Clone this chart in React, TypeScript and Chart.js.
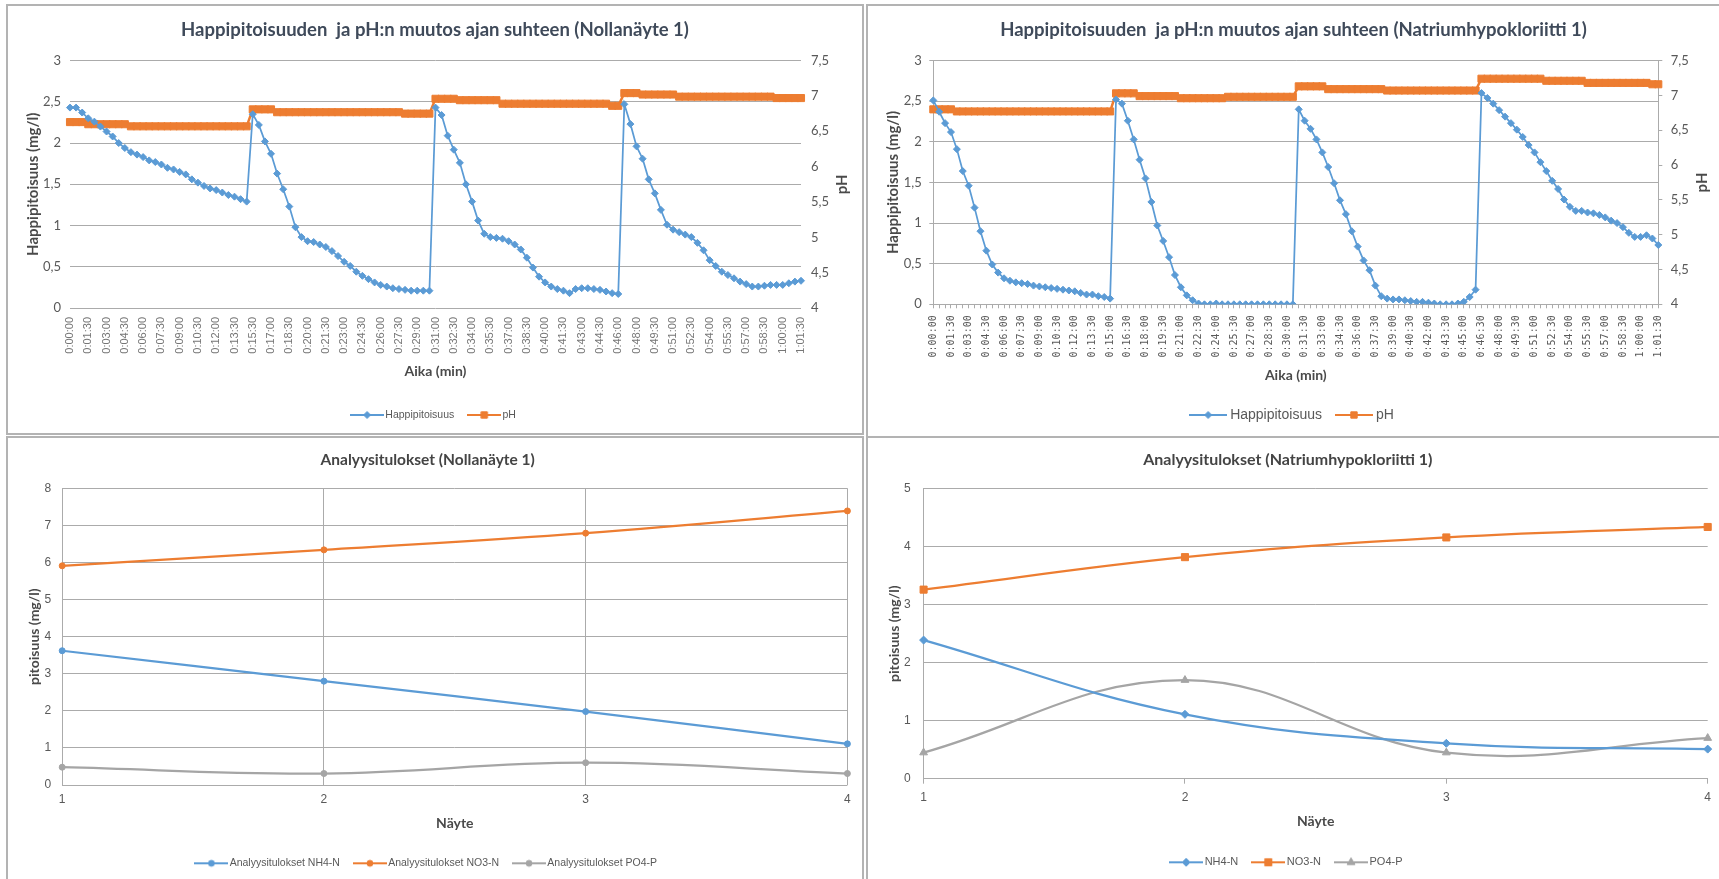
import React, { useEffect, useRef } from 'react';
import { Chart, registerables } from 'chart.js';
import { drawPoint } from 'chart.js/helpers';

Chart.register(...registerables);

// ---------- colours & fonts ----------
const BLUE = '#5b9bd5';
const ORANGE = '#ed7d31';
const GRAY = '#a5a5a5';
const GRID = '#ababab';
const TXT = '#595959';
const AXT = '#4a4a4a';
const TITLE_TOP = '#3f4a5a';
const TITLE_BOT = '#444444';
const FONT = 'Lato, "Open Sans", sans-serif';
const SANS = '"Liberation Sans", Arial, sans-serif';

// ---------- data: top-left (Nollanäyte 1) ----------
const TL_TITLE = 'Happipitoisuuden  ja pH:n muutos ajan suhteen (Nollanäyte 1)';
const TL_TIMES = [
  '0:00:00','0:00:30','0:01:00','0:01:30','0:02:00','0:02:30','0:03:00','0:03:30','0:04:00','0:04:30',
  '0:05:00','0:05:30','0:06:00','0:06:30','0:07:00','0:07:30','0:08:00','0:08:30','0:09:00','0:09:30',
  '0:10:00','0:10:30','0:11:00','0:11:30','0:12:00','0:12:30','0:13:00','0:13:30','0:14:00','0:14:30',
  '0:15:30','0:16:00','0:16:30','0:17:00','0:17:30','0:18:00','0:18:30','0:19:00','0:19:30','0:20:00',
  '0:20:30','0:21:00','0:21:30','0:22:00','0:22:30','0:23:00','0:23:30','0:24:00','0:24:30','0:25:00',
  '0:25:30','0:26:00','0:26:30','0:27:00','0:27:30','0:28:00','0:28:30','0:29:00','0:29:30','0:30:00',
  '0:31:00','0:31:30','0:32:00','0:32:30','0:33:00','0:33:30','0:34:00','0:34:30','0:35:00','0:35:30',
  '0:36:00','0:36:30','0:37:00','0:37:30','0:38:00','0:38:30','0:39:00','0:39:30','0:40:00','0:40:30',
  '0:41:00','0:41:30','0:42:00','0:42:30','0:43:00','0:43:30','0:44:00','0:44:30','0:45:00','0:45:30','0:46:00',
  '0:47:00','0:47:30','0:48:00','0:48:30','0:49:00','0:49:30','0:50:00','0:50:30','0:51:00','0:51:30',
  '0:52:00','0:52:30','0:53:00','0:53:30','0:54:00','0:54:30','0:55:00','0:55:30','0:56:00','0:56:30',
  '0:57:00','0:57:30','0:58:00','0:58:30','0:59:00','0:59:30','1:00:00','1:00:30','1:01:00','1:01:30',
];
const TL_O2 = [
  2.43,2.43,2.37,2.30,2.26,2.20,2.14,2.08,2.00,1.94,
  1.89,1.86,1.83,1.79,1.77,1.74,1.70,1.68,1.65,1.62,
  1.56,1.52,1.48,1.45,1.43,1.40,1.37,1.35,1.32,1.29,
  2.35,2.22,2.02,1.87,1.63,1.44,1.23,0.98,0.86,0.81,
  0.80,0.77,0.74,0.69,0.63,0.56,0.51,0.44,0.39,0.35,
  0.31,0.28,0.26,0.24,0.23,0.22,0.21,0.21,0.21,0.21,
  2.43,2.34,2.09,1.92,1.76,1.50,1.29,1.06,0.90,0.86,
  0.85,0.84,0.81,0.77,0.71,0.61,0.49,0.38,0.31,0.26,
  0.23,0.21,0.18,0.23,0.24,0.24,0.23,0.22,0.20,0.18,0.17,
  2.47,2.23,1.96,1.81,1.56,1.39,1.19,1.01,0.95,0.92,
  0.89,0.86,0.79,0.70,0.58,0.51,0.44,0.40,0.36,0.32,
  0.29,0.26,0.26,0.27,0.28,0.28,0.28,0.30,0.32,0.33,
];
const TL_PH = [
  6.63,6.63,6.63,6.60,6.60,6.60,6.60,6.60,6.60,6.60,
  6.57,6.57,6.57,6.57,6.57,6.57,6.57,6.57,6.57,6.57,
  6.57,6.57,6.57,6.57,6.57,6.57,6.57,6.57,6.57,6.57,
  6.81,6.81,6.81,6.81,6.77,6.77,6.77,6.77,6.77,6.77,
  6.77,6.77,6.77,6.77,6.77,6.77,6.77,6.77,6.77,6.77,
  6.77,6.77,6.77,6.77,6.77,6.75,6.75,6.75,6.75,6.75,
  6.96,6.96,6.96,6.96,6.94,6.94,6.94,6.94,6.94,6.94,
  6.94,6.89,6.89,6.89,6.89,6.89,6.89,6.89,6.89,6.89,
  6.89,6.89,6.89,6.89,6.89,6.89,6.89,6.89,6.89,6.86,6.86,
  7.04,7.04,7.04,7.02,7.02,7.02,7.02,7.02,7.02,6.99,
  6.99,6.99,6.99,6.99,6.99,6.99,6.99,6.99,6.99,6.99,
  6.99,6.99,6.99,6.99,6.99,6.97,6.97,6.97,6.97,6.97,
];

// ---------- data: top-right (Natriumhypokloriitti 1) ----------
const TR_TITLE = 'Happipitoisuuden  ja pH:n muutos ajan suhteen (Natriumhypokloriitti 1)';
const TR_TIMES = [
  '0:00:00','0:00:30','0:01:00','0:01:30','0:02:00','0:02:30','0:03:00','0:03:30','0:04:00','0:04:30',
  '0:05:00','0:05:30','0:06:00','0:06:30','0:07:00','0:07:30','0:08:00','0:08:30','0:09:00','0:09:30',
  '0:10:00','0:10:30','0:11:00','0:11:30','0:12:00','0:12:30','0:13:00','0:13:30','0:14:00','0:14:30',
  '0:15:00','0:15:30','0:16:00','0:16:30','0:17:00','0:17:30','0:18:00','0:18:30','0:19:00','0:19:30',
  '0:20:00','0:20:30','0:21:00','0:21:30','0:22:00','0:22:30','0:23:00','0:23:30','0:24:00','0:24:30',
  '0:25:00','0:25:30','0:26:00','0:26:30','0:27:00','0:27:30','0:28:00','0:28:30','0:29:00','0:29:30',
  '0:30:00','0:30:30','0:31:00','0:31:30','0:32:00','0:32:30','0:33:00','0:33:30','0:34:00','0:34:30',
  '0:35:00','0:35:30','0:36:00','0:36:30','0:37:00','0:37:30','0:38:00','0:38:30','0:39:00','0:39:30',
  '0:40:00','0:40:30','0:41:00','0:41:30','0:42:00','0:42:30','0:43:00','0:43:30','0:44:00','0:44:30',
  '0:45:00','0:45:30','0:46:00','0:46:30','0:47:00','0:47:30','0:48:00','0:48:30','0:49:00','0:49:30',
  '0:50:00','0:50:30','0:51:00','0:51:30','0:52:00','0:52:30','0:53:00','0:53:30','0:54:00','0:54:30',
  '0:55:00','0:55:30','0:56:00','0:56:30','0:57:00','0:57:30','0:58:00','0:58:30','0:59:00','0:59:30',
  '1:00:00','1:00:30','1:01:00','1:01:30',
];
const TR_O2 = [
  2.51,2.37,2.23,2.12,1.91,1.64,1.46,1.19,0.90,0.66,
  0.49,0.39,0.32,0.29,0.27,0.26,0.25,0.23,0.22,0.21,
  0.20,0.19,0.18,0.17,0.16,0.14,0.12,0.12,0.10,0.09,0.07,
  2.52,2.47,2.26,2.03,1.78,1.55,1.26,0.97,0.78,0.58,
  0.36,0.21,0.11,0.05,0.01,0.00,0.00,0.01,0.00,0.00,
  0.00,0.00,0.00,0.00,0.00,0.00,0.00,0.00,0.00,0.00,0.00,
  2.40,2.26,2.16,2.03,1.87,1.69,1.49,1.28,1.11,0.90,
  0.71,0.54,0.42,0.23,0.10,0.07,0.06,0.06,0.05,0.04,
  0.03,0.03,0.02,0.01,0.00,0.00,0.00,0.01,0.03,0.09,0.18,
  2.60,2.54,2.47,2.39,2.31,2.23,2.15,2.06,1.96,1.87,
  1.75,1.64,1.52,1.42,1.29,1.20,1.15,1.15,1.13,1.12,
  1.10,1.07,1.03,1.00,0.95,0.88,0.83,0.83,0.85,0.81,0.73,
];
const TR_PH = [
  6.80,6.80,6.80,6.80,6.77,6.77,6.77,6.77,6.77,6.77,
  6.77,6.77,6.77,6.77,6.77,6.77,6.77,6.77,6.77,6.77,
  6.77,6.77,6.77,6.77,6.77,6.77,6.77,6.77,6.77,6.77,6.77,
  7.03,7.03,7.03,7.03,6.99,6.99,6.99,6.99,6.99,6.99,
  6.99,6.96,6.96,6.96,6.96,6.96,6.96,6.96,6.96,6.98,
  6.98,6.98,6.98,6.98,6.98,6.98,6.98,6.98,6.98,6.98,6.98,
  7.13,7.13,7.13,7.13,7.13,7.09,7.09,7.09,7.09,7.09,
  7.09,7.09,7.09,7.09,7.09,7.07,7.07,7.07,7.07,7.07,
  7.07,7.07,7.07,7.07,7.07,7.07,7.07,7.07,7.07,7.07,7.07,
  7.24,7.24,7.24,7.24,7.24,7.24,7.24,7.24,7.24,7.24,
  7.24,7.21,7.21,7.21,7.21,7.21,7.21,7.21,7.18,7.18,
  7.18,7.18,7.18,7.18,7.18,7.18,7.18,7.18,7.18,7.16,7.16,
];

// ---------- data: bottom charts ----------
const SAMPLES = ['1', '2', '3', '4'];
const BL_TITLE = 'Analyysitulokset (Nollanäyte 1)';
const BL_NAMES = ['Analyysitulokset NH4-N', 'Analyysitulokset NO3-N', 'Analyysitulokset PO4-P'];
const BL_NH4 = [3.62, 2.80, 1.98, 1.11];
const BL_NO3 = [5.91, 6.34, 6.79, 7.39];
const BL_PO4 = [0.48, 0.31, 0.60, 0.31];

const BR_TITLE = 'Analyysitulokset (Natriumhypokloriitti 1)';
const BR_NAMES = ['NH4-N', 'NO3-N', 'PO4-P'];
const BR_NH4 = [2.39, 1.11, 0.61, 0.51];
const BR_NO3 = [3.26, 3.82, 4.16, 4.34];
const BR_PO4 = [0.45, 1.70, 0.45, 0.70];

// ---------- helpers ----------
const fmt = (v: any) => String(v).replace('.', ',');
const LEGEND_PAD = 17;

const sideTitle = {
  id: 'sideTitle',
  afterDraw(chart: any, _args: any, opts: any) {
    if (!opts || !opts.text) return;
    const { ctx, chartArea } = chart;
    ctx.save();
    ctx.font = opts.font;
    ctx.fillStyle = opts.color;
    ctx.textAlign = 'center';
    ctx.textBaseline = 'middle';
    ctx.translate(chartArea.right + opts.offset, (chartArea.top + chartArea.bottom) / 2);
    ctx.rotate(-Math.PI / 2);
    ctx.fillText(opts.text, 0, 0);
    ctx.restore();
  },
};

// legend sample: a short line with the series marker in the middle
function icon(color: string, style: string, w: number, h: number, lw: number, r: number) {
  const c = document.createElement('canvas');
  c.width = w;
  c.height = h;
  const g = c.getContext('2d')!;
  g.strokeStyle = color;
  g.fillStyle = color;
  g.lineWidth = lw;
  g.beginPath();
  g.moveTo(0, h / 2);
  g.lineTo(w, h / 2);
  g.stroke();
  g.lineWidth = 1;
  drawPoint(g, { pointStyle: style, radius: r, borderWidth: 1, rotation: 0 } as any, w / 2, h / 2);
  return c;
}

function legendOpts(icons: HTMLCanvasElement[], iconW: number, size: number) {
  return {
    position: 'bottom',
    labels: {
      usePointStyle: true,
      pointStyleWidth: iconW,
      padding: LEGEND_PAD,
      color: TXT,
      font: { family: SANS, size },
      generateLabels: (chart: any) => {
        const items = (Chart.defaults.plugins.legend.labels as any).generateLabels(chart);
        return items.map((it: any, i: number) => ({ ...it, pointStyle: icons[i] }));
      },
    },
  };
}

// bottom stack geometry: legend centred at legendY, axis title centred at xTitleY, chart bottom at bottom
function stack(canvasH: number, bottom: number, xTitleY: number, legendY: number, fs: number) {
  const legendH = fs + LEGEND_PAD + 10;
  const legendTop = legendY - LEGEND_PAD - fs / 2;
  return {
    layoutBottom: canvasH - legendTop - legendH,
    xH: legendTop - bottom,
    xTitlePad: legendTop - 8.4 - xTitleY,
  };
}

function topConfig(o: any) {
  const icons = [
    icon(BLUE, 'rectRot', o.iconW + 8, o.iconH, 2, 3.5),
    icon(ORANGE, 'rect', o.iconW + 8, o.iconH, 2, 4.5),
  ];
  const st = stack(o.canvasH, o.bottom, o.xTitleY, o.legendY, o.legendSize);
  return {
    type: 'line',
    data: {
      labels: o.labels,
      datasets: [
        {
          label: 'Happipitoisuus', data: o.o2, yAxisID: 'y',
          borderColor: BLUE, backgroundColor: BLUE, borderWidth: 1.75,
          pointStyle: 'rectRot', pointRadius: 3.5, pointBorderWidth: 1, tension: 0,
        },
        {
          label: 'pH', data: o.ph, yAxisID: 'y1',
          borderColor: ORANGE, backgroundColor: ORANGE, borderWidth: 2.5,
          pointStyle: 'rect', pointRadius: 5, pointBorderWidth: 1, tension: 0,
        },
      ],
    },
    options: {
      responsive: false,
      animation: false,
      layout: { padding: { left: 0, right: 0, top: 0, bottom: st.layoutBottom } },
      plugins: {
        title: {
          display: true, text: o.title, color: TITLE_TOP,
          font: { family: FONT, size: 18.5, weight: 'bold' },
          padding: { top: 12.7, bottom: 19.7 },
        },
        legend: legendOpts(icons, o.iconW, o.legendSize),
        tooltip: { enabled: false },
        sideTitle: { text: 'pH', offset: o.phOffset, font: 'bold 15px Lato', color: AXT },
      },
      scales: {
        x: {
          type: 'category',
          offset: false,
          grid: { display: o.axisLines, drawOnChartArea: false, drawTicks: o.axisLines, tickLength: 4, color: GRID },
          border: { display: o.axisLines, color: GRID },
          ticks: {
            autoSkip: false, maxRotation: 90, minRotation: 90, padding: o.xPad,
            font: { family: o.xFont, size: o.xSize }, color: o.xColor,
            callback: (_v: any, i: number) => (i % 3 === 0 ? o.labels[i] : ''),
          },
          title: {
            display: true, text: 'Aika (min)', color: AXT,
            font: { family: FONT, size: 14, weight: 'bold' },
            padding: { top: 0, bottom: st.xTitlePad },
          },
          afterFit: (s: any) => { s.height = st.xH; },
        },
        y: {
          position: 'left', min: 0, max: 3,
          ticks: { stepSize: 0.5, callback: fmt, font: { family: FONT, size: 13 }, color: TXT, padding: o.yPad },
          grid: { color: GRID, drawTicks: o.axisLines, tickLength: 4 },
          border: { display: o.axisLines, color: GRID },
          title: {
            display: true, text: 'Happipitoisuus (mg/l)', color: AXT,
            font: { family: FONT, size: 15, weight: 'bold' },
            padding: { top: o.yTitlePad, bottom: 0 },
          },
          afterFit: (s: any) => { s.width = o.leftW; },
        },
        y1: {
          position: 'right', min: 4, max: 7.5,
          ticks: { stepSize: 0.5, callback: fmt, font: { family: FONT, size: 13 }, color: TXT, padding: o.y1Pad },
          grid: { display: o.axisLines, drawOnChartArea: false, drawTicks: o.axisLines, tickLength: 4, color: GRID },
          border: { display: o.axisLines, color: GRID },
          afterFit: (s: any) => { s.width = o.rightW; },
        },
      },
    },
    plugins: [sideTitle],
  };
}

function bottomConfig(o: any) {
  const icons = [
    icon(BLUE, o.styles[0], o.iconW + 8, o.iconH, 2, o.radii[0]),
    icon(ORANGE, o.styles[1], o.iconW + 8, o.iconH, 2, o.radii[1]),
    icon(GRAY, o.styles[2], o.iconW + 8, o.iconH, 2, o.radii[2]),
  ];
  const st = stack(o.canvasH, o.bottom, o.xTitleY, o.legendY, o.legendSize);
  const ds = (label: string, data: number[], color: string, i: number) => ({
    label, data, borderColor: color, backgroundColor: color, borderWidth: 2.25,
    pointStyle: o.styles[i], pointRadius: o.radii[i], pointBorderWidth: 1, tension: 0.4,
  });
  return {
    type: 'line',
    data: {
      labels: SAMPLES,
      datasets: [
        ds(o.names[0], o.nh4, BLUE, 0),
        ds(o.names[1], o.no3, ORANGE, 1),
        ds(o.names[2], o.po4, GRAY, 2),
      ],
    },
    options: {
      responsive: false,
      animation: false,
      layout: { padding: { left: 0, right: o.padRight, top: 0, bottom: st.layoutBottom } },
      plugins: {
        title: {
          display: true, text: o.title, color: TITLE_BOT,
          font: { family: FONT, size: o.titleSize, weight: 'bold' },
          padding: { top: 22 - o.titleSize * 0.6, bottom: o.chartTop - (22 + o.titleSize * 0.6) },
        },
        legend: legendOpts(icons, o.iconW, o.legendSize),
        tooltip: { enabled: false },
      },
      scales: {
        x: {
          type: 'category',
          offset: false,
          grid: { drawOnChartArea: o.vGrid, drawTicks: o.xTicks, tickLength: 5, color: GRID },
          border: { display: o.xBorder, color: GRID },
          ticks: { padding: o.xPad, font: { family: SANS, size: 12 }, color: TXT },
          title: {
            display: true, text: 'Näyte', color: AXT,
            font: { family: FONT, size: 14, weight: 'bold' },
            padding: { top: 0, bottom: st.xTitlePad },
          },
          afterFit: (s: any) => { s.height = st.xH; },
        },
        y: {
          min: 0, max: o.yMax,
          ticks: { stepSize: 1, font: { family: SANS, size: 12 }, color: TXT, padding: o.yPad },
          grid: { color: GRID, drawTicks: false },
          border: { display: o.yBorder, color: GRID },
          title: {
            display: true, text: 'pitoisuus (mg/l)', color: AXT,
            font: { family: FONT, size: 14, weight: 'bold' },
            padding: { top: o.yTitlePad, bottom: 0 },
          },
          afterFit: (s: any) => { s.width = o.leftW; },
        },
      },
    },
  };
}

// ---------- panels ----------
type Spec = { left: number; top: number; w: number; h: number; make: () => any };

const PANELS: Spec[] = [
  {
    left: 6, top: 4, w: 858, h: 431,
    make: () => topConfig({
      labels: TL_TIMES, o2: TL_O2, ph: TL_PH, title: TL_TITLE,
      canvasH: 427, bottom: 302, xTitleY: 365.7, legendY: 409,
      legendSize: 10.5, iconW: 26, iconH: 10,
      axisLines: false, xPad: 9, xFont: SANS, xSize: 11, xColor: '#767676',
      yPad: 9, yTitlePad: 16, leftW: 62, y1Pad: 10, rightW: 61, phOffset: 40.7,
    }),
  },
  {
    left: 866, top: 4, w: 855, h: 434,
    make: () => topConfig({
      labels: TR_TIMES, o2: TR_O2, ph: TR_PH, title: TR_TITLE,
      canvasH: 430, bottom: 298.3, xTitleY: 369, legendY: 409,
      legendSize: 14, iconW: 30, iconH: 12,
      axisLines: true, xPad: 7, xFont: '"DejaVu Sans Mono", monospace', xSize: 10, xColor: TXT,
      yPad: 7.6, yTitlePad: 16.3, leftW: 65.3, y1Pad: 8.4, rightW: 60.7, phOffset: 43.4,
    }),
  },
  {
    left: 6, top: 436, w: 858, h: 445,
    make: () => bottomConfig({
      title: BL_TITLE, names: BL_NAMES, nh4: BL_NH4, no3: BL_NO3, po4: BL_PO4,
      styles: ['circle', 'circle', 'circle'], radii: [3, 3, 3], titleSize: 15.5, chartTop: 50.3,
      canvasH: 441, bottom: 347, xTitleY: 385.3, legendY: 425.3,
      iconW: 26, iconH: 10, legendSize: 10.5, padRight: 14.6,
      vGrid: true, xTicks: false, xBorder: false, xPad: 7.8,
      yMax: 8, yPad: 11, yBorder: false, yTitlePad: 18, leftW: 54.2,
    }),
  },
  {
    left: 866, top: 436, w: 855, h: 445,
    make: () => bottomConfig({
      title: BR_TITLE, names: BR_NAMES, nh4: BR_NH4, no3: BR_NO3, po4: BR_PO4,
      styles: ['rectRot', 'rect', 'triangle'], radii: [4, 5, 4.5], titleSize: 16, chartTop: 50.7,
      canvasH: 441, bottom: 340.7, xTitleY: 383.7, legendY: 424.3,
      iconW: 26, iconH: 12, legendSize: 11, padRight: 11.3,
      vGrid: false, xTicks: true, xBorder: true, xPad: 6.8,
      yMax: 5, yPad: 13, yBorder: true, yTitlePad: 17.6, leftW: 55.6,
    }),
  },
];

function Panel({ spec }: { spec: Spec }) {
  const ref = useRef<HTMLCanvasElement>(null);
  useEffect(() => {
    const chart = new Chart(ref.current as HTMLCanvasElement, spec.make());
    return () => chart.destroy();
  }, []);
  return (
    <div
      style={{
        position: 'absolute', left: spec.left, top: spec.top, width: spec.w, height: spec.h,
        border: '2px solid #b3b3b3', boxSizing: 'border-box', background: '#fff', overflow: 'hidden',
      }}
    >
      <canvas ref={ref} width={spec.w - 4} height={spec.h - 4} style={{ display: 'block' }} />
    </div>
  );
}

export default function App() {
  return (
    <div
      style={{
        position: 'absolute', left: 0, top: 0, width: 1719, height: 879,
        background: '#fff', overflow: 'hidden',
      }}
    >
      {PANELS.map((p, i) => (
        <Panel key={i} spec={p} />
      ))}
    </div>
  );
}
